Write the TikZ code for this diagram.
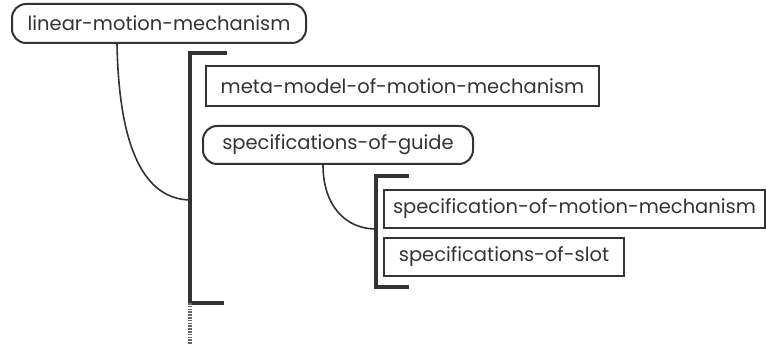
\documentclass[tikz,border=0pt]{standalone}
\usepackage{fontspec}
\setmainfont{Poppins}
\begin{document}
\begin{tikzpicture}[x=1pt,y=-1pt,
  framefont/.style={font=\fontsize{19.5}{21}\selectfont, text=black!80},
  roundbox/.style={draw=black!80, line width=2pt, rounded corners=14pt, anchor=north west, inner sep=0pt, framefont},
  squarebox/.style={draw=black!80, line width=2pt, anchor=north west, inner sep=0pt, framefont},
  link/.style={draw=black!80, line width=1.6pt},
  bracket/.style={draw=black!80, line width=4pt}]
\useasboundingbox (0,0) rectangle (766,344);

% frames
\node[roundbox, minimum width=294pt, minimum height=39pt] (lmm) at (11,3) {linear-motion-mechanism};
\node[squarebox, minimum width=393pt, minimum height=40pt] (meta) at (205,65) {meta-model-of-motion-mechanism};
\node[roundbox, minimum width=270pt, minimum height=38pt] (guide) at (202,125) {specifications-of-guide};
\node[squarebox, minimum width=381pt, minimum height=38pt] (motion) at (383,189) {specification-of-motion-mechanism};
\node[squarebox, minimum width=240pt, minimum height=38pt] (slot) at (383,237) {specifications-of-slot};

% outer slot bracket
\coordinate (b1top) at (190,53);
\coordinate (b1bot) at (190,303);
\coordinate (b1join) at (190,200);
\draw[bracket] (227,53) -- (b1top) -- (b1bot) -- (224,303);
\coordinate (b1tail) at (190,344);
\draw[line width=4pt, black!60, dash pattern=on 1.6pt off 1.2pt] (b1bot) -- (b1tail);

% inner slot bracket
\coordinate (b2top) at (376,176);
\coordinate (b2bot) at (376,287);
\coordinate (b2join) at (376,229);
\draw[bracket] (409,176) -- (b2top) -- (b2bot) -- (409,287);

% links from frames to their slot brackets
\draw[link] (lmm.south west) ++(106,0) coordinate (lmmfoot)
  .. controls (119,150) and (145,199) .. (b1join);
\draw[link] (guide.south west) ++(121,0) coordinate (guidefoot)
  .. controls (323,205) and (345,229) .. (b2join);
\end{tikzpicture}
\end{document}
